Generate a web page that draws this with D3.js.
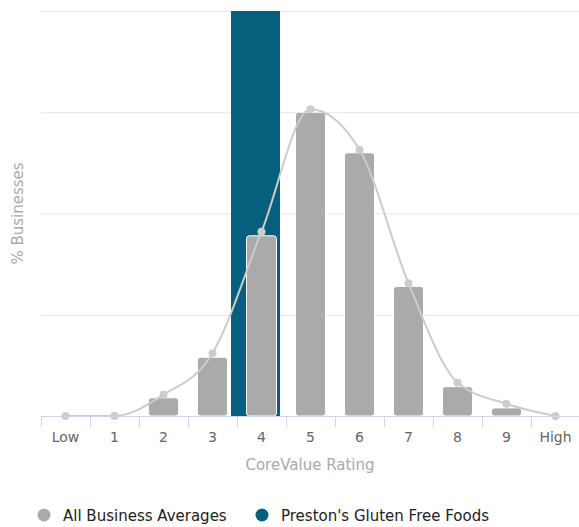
<!DOCTYPE html>
<html>
<head>
<meta charset="utf-8">
<script src="https://cdnjs.cloudflare.com/ajax/libs/d3/7.8.5/d3.min.js"></script>
<style>
  body { margin: 0; background: #fff; }
  svg { font-family: "DejaVu Sans", sans-serif; }
</style>
</head>
<body>
<div id="chart"></div>
<script>
(function () {
    'use strict';

    // chart data
    var categories = ['Low', '1', '2', '3', '4', '5', '6', '7', '8', '9', 'High'];
    var averageBars = [0, 0, 1.8, 5.8, 17.8, 30, 26, 12.8, 2.9, 0.8, 0];
    var averageCurve = [0, 0, 2.1, 6.2, 18.2, 30.3, 26.3, 13.1, 3.3, 1.2, 0];
    var prestonCategory = '4';
    var prestonValue = 40;
    var yTicks = [0, 10, 20, 30, 40];

    var W = 579, H = 527;
    var left = 41, right = 580, top = 11, bottom = 416;

    var svg = d3.select('#chart').append('svg')
        .attr('width', W).attr('height', H);

    var x = d3.scaleBand().domain(categories).range([left, right]);
    var y = d3.scaleLinear().domain([0, 40]).range([bottom, top]);
    var cx = function (c) { return x(c) + x.bandwidth() / 2; };

    // gridlines
    svg.append('g').selectAll('line')
        .data(yTicks.slice(1))
        .enter().append('line')
        .attr('x1', left).attr('x2', W)
        .attr('y1', function (d) { return y(d) + 0.5; })
        .attr('y2', function (d) { return y(d) + 0.5; })
        .attr('stroke', '#e6e6e6').attr('stroke-width', 1);

    // Preston bar (sits slightly left of its band)
    svg.append('rect')
        .attr('x', x(prestonCategory) - 6)
        .attr('y', y(prestonValue))
        .attr('width', x.bandwidth())
        .attr('height', y(0) - y(prestonValue))
        .attr('fill', '#065f7d');

    // average bars
    var bw = 30;
    svg.append('g').selectAll('rect')
        .data(averageBars.map(function (v, i) { return { c: categories[i], v: v }; })
            .filter(function (d) { return d.v > 0; }))
        .enter().append('rect')
        .attr('x', function (d) { return cx(d.c) - bw / 2; })
        .attr('y', function (d) { return y(d.v); })
        .attr('width', bw)
        .attr('height', function (d) { return y(0) - y(d.v); })
        .attr('rx', 3)
        .attr('fill', '#aaaaaa')
        .attr('stroke', '#fff').attr('stroke-width', 1);

    // spline
    var line = d3.line()
        .x(function (d, i) { return cx(categories[i]); })
        .y(function (d) { return y(d); })
        .curve(d3.curveMonotoneX);

    svg.append('path')
        .datum(averageCurve)
        .attr('d', line)
        .attr('fill', 'none')
        .attr('stroke', '#cccccc')
        .attr('stroke-width', 2);

    svg.append('g').selectAll('circle')
        .data(averageCurve)
        .enter().append('circle')
        .attr('cx', function (d, i) { return cx(categories[i]); })
        .attr('cy', function (d) { return y(d); })
        .attr('r', 4)
        .attr('fill', '#cccccc');

    // x axis
    var xAxis = d3.axisBottom(x).tickSize(0).tickPadding(16);
    var gx = svg.append('g')
        .attr('transform', 'translate(0,' + (bottom + 0.5) + ')')
        .call(xAxis);
    gx.select('.domain').remove();
    gx.selectAll('text')
        .attr('fill', '#666').style('font-size', '14px')
        .style('font-family', '"DejaVu Sans", sans-serif');

    svg.append('line')
        .attr('x1', left).attr('x2', W)
        .attr('y1', bottom + 0.5).attr('y2', bottom + 0.5)
        .attr('stroke', '#ccd6eb').attr('stroke-width', 1);

    var tickPos = categories.map(function (c) { return x(c); }).concat([x.range()[1]]);
    svg.append('g').selectAll('line')
        .data(tickPos)
        .enter().append('line')
        .attr('x1', function (d) { return Math.round(d) + 0.5; })
        .attr('x2', function (d) { return Math.round(d) + 0.5; })
        .attr('y1', bottom).attr('y2', bottom + 11)
        .attr('stroke', '#ccd6eb').attr('stroke-width', 1);

    // axis titles
    svg.append('text')
        .attr('x', (left + W) / 2).attr('y', 470)
        .attr('text-anchor', 'middle')
        .attr('fill', '#aaaaaa').style('font-size', '15px')
        .text('CoreValue Rating');

    svg.append('text')
        .attr('transform', 'translate(23,' + ((top + bottom) / 2) + ') rotate(-90)')
        .attr('text-anchor', 'middle')
        .attr('fill', '#aaaaaa').style('font-size', '15px')
        .text('% Businesses');

    // legend
    var legend = [
        { name: 'All Business Averages', color: '#aaaaaa', x: 44 },
        { name: "Preston's Gluten Free Foods", color: '#065f7d', x: 262 }
    ];
    var lg = svg.append('g').selectAll('g')
        .data(legend)
        .enter().append('g')
        .attr('transform', function (d) { return 'translate(' + d.x + ',515)'; });
    lg.append('circle').attr('r', 6.5).attr('fill', function (d) { return d.color; });
    lg.append('text')
        .attr('x', 19).attr('y', 5.5)
        .attr('fill', '#222').style('font-size', '15px')
        .text(function (d) { return d.name; });
})();
</script>
</body>
</html>
